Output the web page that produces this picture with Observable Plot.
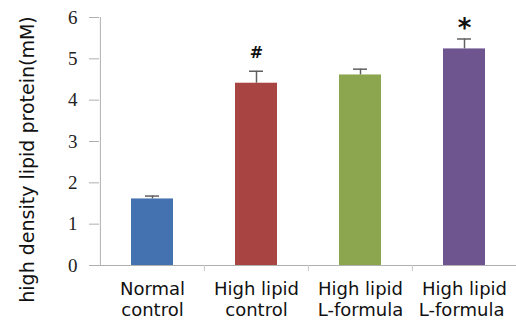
<!DOCTYPE html>
<html>
<head>
<meta charset="utf-8">
<script src="https://cdn.jsdelivr.net/npm/d3@7"></script>
<script src="https://cdn.jsdelivr.net/npm/@observablehq/plot@0.6"></script>
<style>
  html, body { margin: 0; padding: 0; background: #fff; }
</style>
</head>
<body>
<div id="chart"></div>
<script>
const categories = ["Normal\ncontrol", "High lipid\ncontrol", "High lipid\nL-formula", "High lipid\nL-formula "];
const values = [1.61, 4.41, 4.61, 5.24];
const errors = [0.07, 0.29, 0.14, 0.24];
const marks = ["", "#", "", "*"];
const colors = ["#4472b0", "#a84543", "#8ba64e", "#6e5590"];
const yTicks = [0, 1, 2, 3, 4, 5, 6];
const yLabel = "high density lipid protein(mM)";

const data = categories.map((c, i) => ({cat: c, value: values[i], hi: values[i] + errors[i], mark: marks[i], color: colors[i]}));

const width = 516, height = 320;
const marginLeft = 99, marginRight = 0, marginTop = 17, marginBottom = 55;
const step = (width - marginLeft - marginRight) / categories.length;

const chart = Plot.plot({
  width, height, marginLeft, marginRight, marginTop, marginBottom,
  style: {fontFamily: "'DejaVu Sans', Arial, sans-serif", fontSize: "18px", background: "#fff"},
  x: {domain: categories, paddingInner: 0.6, paddingOuter: 0.3, label: null},
  y: {domain: [0, 6], label: null},
  marks: [
    Plot.ruleY([0], {stroke: "#b0b0b0"}),
    Plot.ruleX([categories[0]], {y1: 0, y2: 6, dx: -step / 2, stroke: "#b0b0b0"}),
    Plot.ruleX(categories.slice(1), {y1: 0, y2: 0, insetBottom: -6, dx: -step / 2, stroke: "#c8c8c8"}),
    Plot.axisY({ticks: yTicks, tickSize: 10, stroke: "#b0b0b0", tickFormat: () => ""}),
    Plot.text(yTicks, {y: d => d, text: d => String(d), frameAnchor: "left", textAnchor: "end", dx: -22,
      fontFamily: "'Liberation Serif', 'Times New Roman', serif", fontSize: 19, fill: "#222"}),
    Plot.axisX({tickSize: 0, tickPadding: 15, fill: "#111", fontSize: 18, lineHeight: 1.15}),
    Plot.barY(data, {x: "cat", y: "value", fill: "color"}),
    Plot.ruleX(data, {x: "cat", y1: "value", y2: "hi", stroke: "#606060", strokeWidth: 1.5}),
    Plot.tickY(data, {x: "cat", y: "hi", stroke: "#606060", strokeWidth: 1.5, insetLeft: 14, insetRight: 14}),
    Plot.text(data.filter(d => d.mark === "#"), {x: "cat", y: "hi", text: "mark", dy: -18, fontSize: 16, fontWeight: "bold", fill: "#111"}),
    Plot.text(data.filter(d => d.mark === "*"), {x: "cat", y: "hi", text: "mark", dy: -10, fontSize: 26, fontWeight: "bold", fill: "#111"}),
    Plot.text([yLabel], {frameAnchor: "left", textAnchor: "middle", rotate: -90, dx: -72, dy: 18, fontSize: 19, fill: "#111"})
  ]
});
document.getElementById("chart").appendChild(chart);
</script>
</body>
</html>
